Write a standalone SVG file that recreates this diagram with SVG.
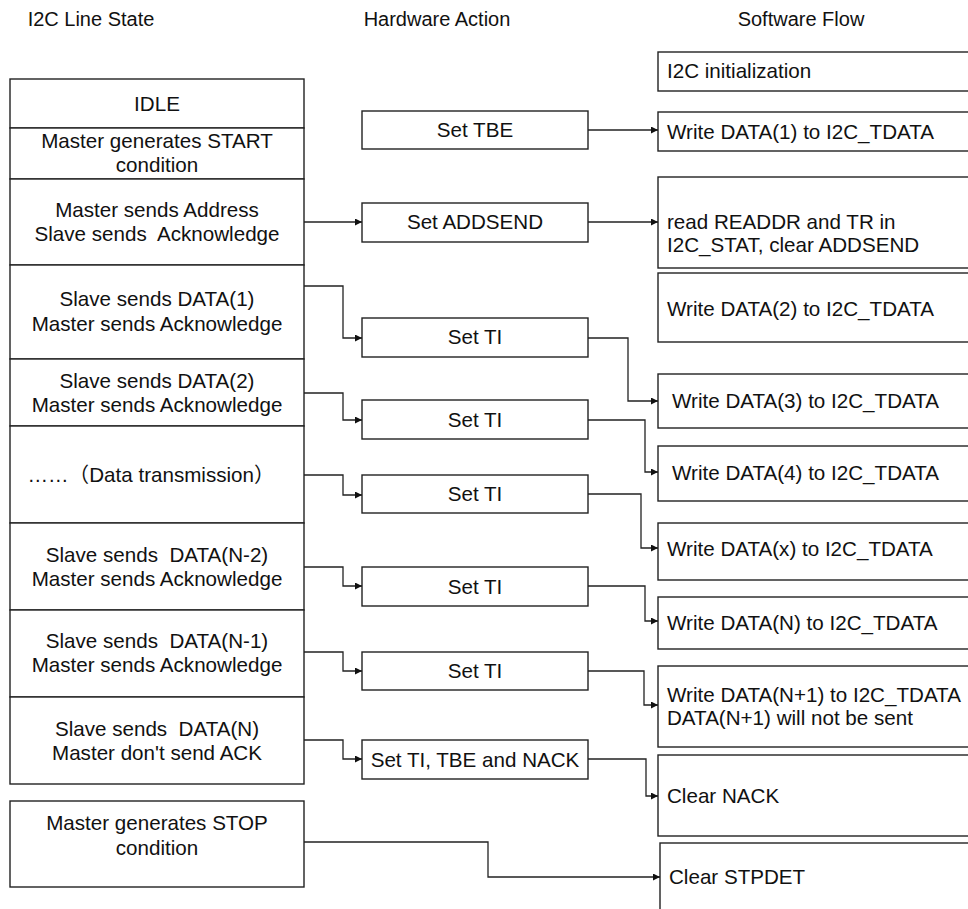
<svg xmlns="http://www.w3.org/2000/svg" width="968" height="909" viewBox="0 0 968 909">
<style>
  .box{fill:#fff;stroke:#222;stroke-width:1.4}
  .t{font-family:"Liberation Sans",Arial,"Noto Sans CJK SC",sans-serif;font-size:20.6px;fill:#111}
  .c{text-anchor:middle}
  .h{font-family:"Liberation Sans",Arial,sans-serif;font-size:20px;fill:#111;text-anchor:middle}
  .conn{fill:none;stroke:#222;stroke-width:1.3}
</style>
<defs>
  <marker id="arr" viewBox="0 0 8 8" refX="8" refY="4" markerWidth="7" markerHeight="7" markerUnits="userSpaceOnUse" orient="auto">
    <path d="M0,0 L8,4 L0,8 z" fill="#111"/>
  </marker>
</defs>
<rect width="968" height="909" fill="#fff"/>
<g id="headers">
  <text class="h" x="91" y="26">I2C Line State</text>
  <text class="h" x="437" y="26">Hardware Action</text>
  <text class="h" x="801" y="26">Software Flow</text>
</g>
<!-- Left column -->
<g id="l-idle"><rect class="box" x="10" y="79" width="294" height="49"/><text class="t c" x="157" y="111">IDLE</text></g>
<g id="l-start"><rect class="box" x="10" y="128" width="294" height="51"/><text class="t c" x="157" y="148">Master generates START</text><text class="t c" x="157" y="172">condition</text></g>
<g id="l-addr"><rect class="box" x="10" y="179" width="294" height="86"/><text class="t c" x="157" y="217">Master sends Address</text><text class="t c" x="157" y="241" xml:space="preserve">Slave sends  Acknowledge</text></g>
<g id="l-d1"><rect class="box" x="10" y="265" width="294" height="94"/><text class="t c" x="157" y="306">Slave sends DATA(1)</text><text class="t c" x="157" y="331">Master sends Acknowledge</text></g>
<g id="l-d2"><rect class="box" x="10" y="359" width="294" height="67"/><text class="t c" x="157" y="388">Slave sends DATA(2)</text><text class="t c" x="157" y="412">Master sends Acknowledge</text></g>
<g id="l-dt"><rect class="box" x="10" y="426" width="294" height="97"/><text class="t c" x="151" y="482">……（Data transmission）</text></g>
<g id="l-dn2"><rect class="box" x="10" y="523" width="294" height="87"/><text class="t c" x="157" y="562" xml:space="preserve">Slave sends  DATA(N-2)</text><text class="t c" x="157" y="586">Master sends Acknowledge</text></g>
<g id="l-dn1"><rect class="box" x="10" y="610" width="294" height="87"/><text class="t c" x="157" y="648" xml:space="preserve">Slave sends  DATA(N-1)</text><text class="t c" x="157" y="672">Master sends Acknowledge</text></g>
<g id="l-dn"><rect class="box" x="10" y="697" width="294" height="87"/><text class="t c" x="157" y="736" xml:space="preserve">Slave sends  DATA(N)</text><text class="t c" x="157" y="760">Master don't send ACK</text></g>
<g id="l-stop"><rect class="box" x="10" y="801" width="294" height="86"/><text class="t c" x="157" y="830">Master generates STOP</text><text class="t c" x="157" y="855">condition</text></g>
<!-- Hardware column -->
<g id="h-tbe"><rect class="box" x="362" y="111" width="226" height="38"/><text class="t c" x="475" y="137">Set TBE</text></g>
<g id="h-addsend"><rect class="box" x="362" y="203" width="226" height="39"/><text class="t c" x="475" y="229">Set ADDSEND</text></g>
<g id="h-ti1"><rect class="box" x="362" y="318" width="226" height="39"/><text class="t c" x="475" y="344">Set TI</text></g>
<g id="h-ti2"><rect class="box" x="362" y="400" width="226" height="39"/><text class="t c" x="475" y="427">Set TI</text></g>
<g id="h-ti3"><rect class="box" x="362" y="475" width="226" height="38"/><text class="t c" x="475" y="501">Set TI</text></g>
<g id="h-ti4"><rect class="box" x="362" y="567" width="226" height="39"/><text class="t c" x="475" y="594">Set TI</text></g>
<g id="h-ti5"><rect class="box" x="362" y="652" width="226" height="38"/><text class="t c" x="475" y="678">Set TI</text></g>
<g id="h-nack"><rect class="box" x="362" y="740" width="226" height="39"/><text class="t c" x="475" y="767">Set TI, TBE and NACK</text></g>
<!-- Software column -->
<g id="s-init"><rect class="box" x="658" y="52" width="320" height="39"/><text class="t" x="667" y="78">I2C initialization</text></g>
<g id="s-d1"><rect class="box" x="658" y="112" width="320" height="39"/><text class="t" x="667" y="139">Write DATA(1) to I2C_TDATA</text></g>
<g id="s-readdr"><rect class="box" x="658" y="177" width="320" height="91"/><text class="t" x="667" y="229">read READDR and TR in</text><text class="t" x="667" y="252">I2C_STAT, clear ADDSEND</text></g>
<g id="s-d2"><rect class="box" x="658" y="273" width="320" height="69"/><text class="t" x="667" y="316">Write DATA(2) to I2C_TDATA</text></g>
<g id="s-d3"><rect class="box" x="658" y="374" width="320" height="54"/><text class="t" x="672" y="408">Write DATA(3) to I2C_TDATA</text></g>
<g id="s-d4"><rect class="box" x="658" y="446" width="320" height="55"/><text class="t" x="672" y="480">Write DATA(4) to I2C_TDATA</text></g>
<g id="s-dx"><rect class="box" x="658" y="523" width="320" height="57"/><text class="t" x="667" y="556">Write DATA(x) to I2C_TDATA</text></g>
<g id="s-dn"><rect class="box" x="658" y="597" width="320" height="52"/><text class="t" x="667" y="630">Write DATA(N) to I2C_TDATA</text></g>
<g id="s-dn1"><rect class="box" x="658" y="666" width="320" height="81"/><text class="t" x="667" y="702">Write DATA(N+1) to I2C_TDATA</text><text class="t" x="667" y="725">DATA(N+1) will not be sent</text></g>
<g id="s-nack"><rect class="box" x="658" y="755" width="320" height="81"/><text class="t" x="667" y="803">Clear NACK</text></g>
<g id="s-stpdet"><rect class="box" x="660" y="843" width="320" height="80"/><text class="t" x="669" y="884">Clear STPDET</text></g>
<!-- Connectors -->
<g id="connectors">
  <path class="conn" marker-end="url(#arr)" d="M588,130 H658"/>
  <path class="conn" marker-end="url(#arr)" d="M304,222 H362"/>
  <path class="conn" marker-end="url(#arr)" d="M588,222 H658"/>
  <path class="conn" marker-end="url(#arr)" d="M304,286 H343 V338 H362"/>
  <path class="conn" marker-end="url(#arr)" d="M304,393 H343 V420 H362"/>
  <path class="conn" marker-end="url(#arr)" d="M304,475 H343 V495 H362"/>
  <path class="conn" marker-end="url(#arr)" d="M304,567 H343 V586 H362"/>
  <path class="conn" marker-end="url(#arr)" d="M304,652 H343 V671 H362"/>
  <path class="conn" marker-end="url(#arr)" d="M304,740 H343 V759 H362"/>
  <path class="conn" marker-end="url(#arr)" d="M304,842 H488 V877 H660"/>
  <path class="conn" marker-end="url(#arr)" d="M588,338 H628 V401 H658"/>
  <path class="conn" marker-end="url(#arr)" d="M588,420 H645 V472 H658"/>
  <path class="conn" marker-end="url(#arr)" d="M588,494 H641 V548 H658"/>
  <path class="conn" marker-end="url(#arr)" d="M588,586 H645 V621 H658"/>
  <path class="conn" marker-end="url(#arr)" d="M588,671 H644 V705 H658"/>
  <path class="conn" marker-end="url(#arr)" d="M588,759 H646 V796 H658"/>
</g>
</svg>
